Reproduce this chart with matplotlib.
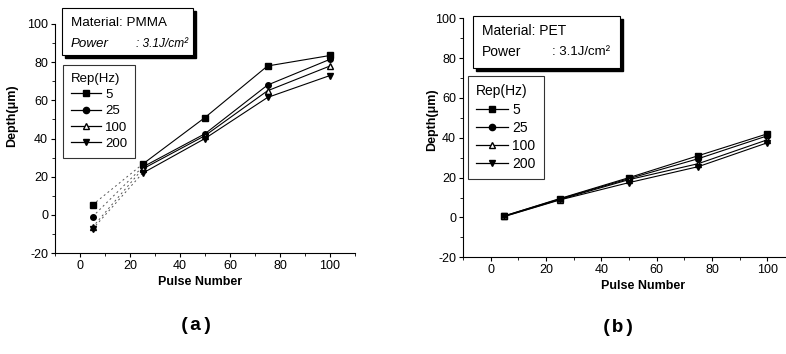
import matplotlib
matplotlib.use("Agg")
import matplotlib.pyplot as plt
from matplotlib.lines import Line2D
from matplotlib.patches import Rectangle

plt.rcParams["font.family"] = ["Liberation Sans", "DejaVu Sans"]
plt.rcParams["axes.unicode_minus"] = False

# Veri: darbe sayısı ve derinlik (µm)
pulses = [5, 25, 50, 75, 100]
rep_labels = ["5", "25", "100", "200"]

pmma_5 = [5.2, 26.5, 51.0, 78.0, 83.5]
pmma_25 = [-1.0, 25.0, 42.5, 68.0, 81.5]
pmma_100 = [-6.5, 24.0, 41.5, 65.0, 78.0]
pmma_200 = [-7.5, 21.8, 40.0, 61.5, 73.0]

pet_5 = [0.8, 9.5, 20.0, 31.0, 42.0]
pet_25 = [0.8, 9.3, 19.5, 29.5, 41.0]
pet_100 = [0.6, 9.0, 19.0, 27.0, 39.0]
pet_200 = [0.5, 8.8, 17.5, 25.5, 37.5]

markers = ["s", "o", "^", "v"]
mfaces = ["black", "black", "white", "black"]

W, H = 786, 354
fig = plt.figure(figsize=(W / 100, H / 100), dpi=100)


def px_rect(x0, y0, x1, y1):
    """piksel koordinatı -> figür kesri [sol, alt, genişlik, yükseklik]"""
    return [x0 / W, 1 - y1 / H, (x1 - x0) / W, (y1 - y0) / H]


def style_axes(ax, ylab_xy, xlab_xy):
    ax.set_xlim(-10, 110)
    ax.set_ylim(-20, 100)
    ax.spines["top"].set_visible(False)
    ax.spines["right"].set_visible(False)
    ax.set_xticks([0, 20, 40, 60, 80, 100])
    ax.set_yticks([-20, 0, 20, 40, 60, 80, 100])
    ax.set_xticks(range(-10, 111, 10), minor=True)
    ax.set_yticks(range(-20, 101, 10), minor=True)
    ax.tick_params(labelsize=9, length=3, width=0.8, pad=2)
    ax.tick_params(which="minor", length=2, width=0.6)
    ax.set_xlabel("Pulse Number", fontsize=9, fontweight="bold")
    ax.set_ylabel("Depth(\u03bcm)", fontsize=9, fontweight="bold")
    ax.yaxis.set_label_coords(*ylab_xy)
    ax.xaxis.set_label_coords(*xlab_xy)


def info_box(x0, y0, x1, y1, material, italic_power, fs, fs_val, colon_dx):
    fig.patches.append(Rectangle((x0 / W + 3 / W, 1 - y1 / H - 3 / H),
                                 (x1 - x0) / W, (y1 - y0) / H,
                                 transform=fig.transFigure, facecolor="black",
                                 edgecolor="black", zorder=5))
    fig.patches.append(Rectangle((x0 / W, 1 - y1 / H), (x1 - x0) / W, (y1 - y0) / H,
                                 transform=fig.transFigure, facecolor="white",
                                 edgecolor="black", lw=0.8, zorder=6))
    st = "italic" if italic_power else "normal"
    fig.text((x0 + 9) / W, 1 - (y0 + 15) / H, material, fontsize=fs,
             va="center", zorder=7)
    fig.text((x0 + 9) / W, 1 - (y0 + 36) / H, "Power", fontsize=fs,
             va="center", style=st, zorder=7)
    fig.text((x0 + colon_dx) / W, 1 - (y0 + 36) / H, ": 3.1J/cm\u00b2",
             fontsize=fs_val, va="center", style=st, zorder=7)


def add_legend(ax, x0, y0, fs):
    handles = [Line2D([], [], color="black", lw=0.9, marker=m, markersize=4.5,
                      markerfacecolor=f, markeredgecolor="black")
               for m, f in zip(markers, mfaces)]
    leg = ax.legend(handles, rep_labels, title="Rep(Hz)", loc="upper left",
                    bbox_to_anchor=(x0 / W, 1 - y0 / H),
                    bbox_transform=fig.transFigure, fontsize=fs,
                    title_fontsize=fs, frameon=True, fancybox=False,
                    handlelength=2.3, handletextpad=0.3, labelspacing=0.3,
                    borderpad=0.6, borderaxespad=0)
    leg._legend_box.align = "left"
    leg.get_frame().set_edgecolor("black")
    leg.get_frame().set_linewidth(0.8)


# (a) PMMA
ax1 = fig.add_axes(px_rect(55, 24, 355, 253))
style_axes(ax1, (-0.123, 0.598), (0.483, -0.1))
for ys, m, f in zip([pmma_5, pmma_25, pmma_100, pmma_200], markers, mfaces):
    ax1.plot(pulses[:2], ys[:2], color="#555555", lw=0.7, ls=(0, (2, 3)))
    ax1.plot(pulses[1:], ys[1:], color="black", lw=0.8)
    ax1.plot(pulses, ys, ls="none", marker=m, markersize=4,
             markerfacecolor=f, markeredgecolor="black")
add_legend(ax1, 63, 65, 9.5)
info_box(62, 8, 193, 55, "Material: PMMA", True, 9.6, 8.6, 74)

# (b) PET
ax2 = fig.add_axes(px_rect(463, 18.3, 795, 257.3))
style_axes(ax2, (-0.075, 0.574), (0.542, -0.095))
for ys, m, f in zip([pet_5, pet_25, pet_100, pet_200], markers, mfaces):
    ax2.plot(pulses, ys, color="black", lw=0.8, marker=m, markersize=4,
             markerfacecolor=f, markeredgecolor="black")
add_legend(ax2, 468, 76, 10)
info_box(473, 16, 620, 68, "Material: PET", False, 10, 9.5, 79)

fig.text(196 / W, 1 - 325 / H, "(a)", family="Liberation Mono", fontweight="bold",
         fontsize=14, ha="center", va="center")
fig.text(618 / W, 1 - 328 / H, "(b)", family="Liberation Mono", fontweight="bold",
         fontsize=14, ha="center", va="center")

fig.savefig("out.png", dpi=100)
